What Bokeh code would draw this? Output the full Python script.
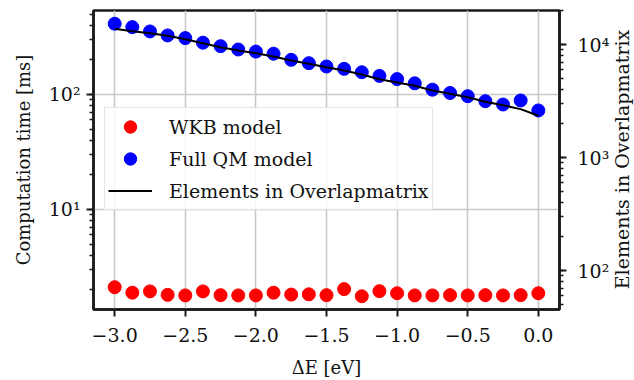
import math
from bokeh.plotting import figure
from bokeh.models import (Range1d, LogAxis, LogScale, LogTicker, FixedTicker,
                          CustomJSTickFormatter, Legend, LegendItem, Label)
from bokeh.embed import file_html
from bokeh.resources import INLINE

# ---- data ----
delta_e = [-3.0, -2.875, -2.75, -2.625, -2.5, -2.375, -2.25, -2.125, -2.0,
           -1.875, -1.75, -1.625, -1.5, -1.375, -1.25, -1.125, -1.0,
           -0.875, -0.75, -0.625, -0.5, -0.375, -0.25, -0.125, 0.0]
wkb_time = [2.11, 1.89, 1.94, 1.81, 1.79, 1.94, 1.80, 1.79, 1.79, 1.89,
            1.82, 1.83, 1.80, 2.03, 1.76, 1.95, 1.87, 1.79, 1.79, 1.80,
            1.79, 1.80, 1.79, 1.80, 1.87]
qm_time = [412, 385, 353, 326, 309, 282, 263, 246, 236, 226, 200, 187, 175,
           167, 156, 145, 136, 125, 110, 103, 96.6, 87.4, 81.8, 88.7, 72.6]
elements = [13780, 13120, 12600, 11940, 11140, 10270, 9470, 8850, 8380,
            7830, 7220, 6750, 6300, 5890, 5430, 4930, 4610, 4310, 3920,
            3660, 3420, 3110, 2900, 2680, 2340]

x_ticks = [-3.0, -2.5, -2.0, -1.5, -1.0, -0.5, 0.0]
x_labels = ["\u22123.0", "\u22122.5", "\u22122.0", "\u22121.5", "\u22121.0", "\u22120.5", "0.0"]
left_ticks = [1, 10, 100, 1000]
left_labels = ["10\u2070", "10\u00b9", "10\u00b2", "10\u00b3"]
right_ticks = [10, 100, 1000, 10000, 100000]
right_labels = ["10\u00b9", "10\u00b2", "10\u00b3", "10\u2074", "10\u2075"]

FONT = "DejaVu Serif"
FS = "18px"
TICK_FS = "19px"
TXT = "#111111"
DARK = "#1a1a1a"

lookup = """
let best = -1;
for (let i = 0; i < vals.length; i++) {
  if (Math.abs(tick - vals[i]) < 1e-6 * Math.max(1, Math.abs(vals[i]))) { best = i; }
}
return best >= 0 ? labs[best] : "";
"""

p = figure(width=634, height=380, x_range=Range1d(-3.15, 0.15),
           y_range=Range1d(1.35, 537), y_axis_type="log",
           output_backend="svg", toolbar_location=None,
           min_border_left=93, min_border_right=75,
           min_border_top=10, min_border_bottom=71)
p.background_fill_color = "white"
p.border_fill_color = "white"
p.outline_line_color = DARK
p.outline_line_width = 2.5

p.extra_y_ranges = {"right": Range1d(45.2, 20000)}
p.extra_y_scales = {"right": LogScale()}
right_axis = LogAxis(y_range_name="right", ticker=LogTicker(num_minor_ticks=10))
p.add_layout(right_axis, "right")

p.xaxis.ticker = FixedTicker(ticks=x_ticks)
p.xaxis.formatter = CustomJSTickFormatter(args=dict(vals=x_ticks, labs=x_labels), code=lookup)
p.xaxis.axis_label = "\u0394E [eV]"
p.yaxis[0].ticker = LogTicker(num_minor_ticks=10)
p.yaxis[0].formatter = CustomJSTickFormatter(args=dict(vals=left_ticks, labs=left_labels), code=lookup)
p.yaxis[0].axis_label = "Computation time [ms]"
right_axis.formatter = CustomJSTickFormatter(args=dict(vals=right_ticks, labs=right_labels), code=lookup)

for ax in [p.xaxis[0], p.yaxis[0], right_axis]:
    ax.major_label_text_font = FONT
    ax.major_label_text_font_size = TICK_FS
    ax.major_label_text_color = TXT
    ax.axis_label_text_font = FONT
    ax.axis_label_text_font_size = FS
    ax.axis_label_text_font_style = "normal"
    ax.axis_label_text_color = TXT
    ax.axis_line_color = DARK
    ax.axis_line_width = 2.5
    ax.major_tick_line_color = DARK
    ax.major_tick_line_width = 2
    ax.major_tick_out = 7
    ax.major_tick_in = 0
    ax.minor_tick_line_color = DARK
    ax.minor_tick_line_width = 1.5
    ax.minor_tick_out = 4
    ax.minor_tick_in = 0
    ax.major_label_standoff = 4
p.xaxis.major_label_standoff = 11
p.xaxis.axis_label_standoff = 12
p.yaxis[0].major_label_standoff = 6
p.yaxis[0].axis_label_standoff = 12
right_axis.major_label_standoff = 11

p.xgrid.grid_line_color = "#c8c8c8"
p.xgrid.grid_line_width = 1.6
p.ygrid.grid_line_color = "#c8c8c8"
p.ygrid.grid_line_width = 1.6

r_wkb = p.scatter(delta_e, wkb_time, size=13, color="#ff0000")
r_qm = p.scatter(delta_e, qm_time, size=13, color="#0000ff")
r_el = p.line(delta_e, elements, y_range_name="right", line_color="black", line_width=2)

# right-hand axis title, reading bottom-to-top, placed in the right side panel
right_title = Label(x=9, y=150, x_units="screen", y_units="screen",
                    text="Elements in Overlapmatrix", angle=math.pi / 2,
                    text_align="center", text_baseline="middle",
                    text_font=FONT, text_font_size="19px", text_color=TXT)
p.add_layout(right_title, "right")

legend = Legend(items=[LegendItem(label="WKB model", renderers=[r_wkb]),
                       LegendItem(label="Full QM model", renderers=[r_qm]),
                       LegendItem(label="Elements in Overlapmatrix", renderers=[r_el])],
                location=(11, 99), margin=0, padding=3, spacing=1,
                glyph_width=44, glyph_height=31, label_standoff=17,
                label_text_font=FONT, label_text_font_size="19px", label_text_color=TXT,
                border_line_color="#cccccc", border_line_width=1.5,
                background_fill_color="white", background_fill_alpha=0.85)
p.add_layout(legend)

open("out.html", "w").write(file_html(p, INLINE))
